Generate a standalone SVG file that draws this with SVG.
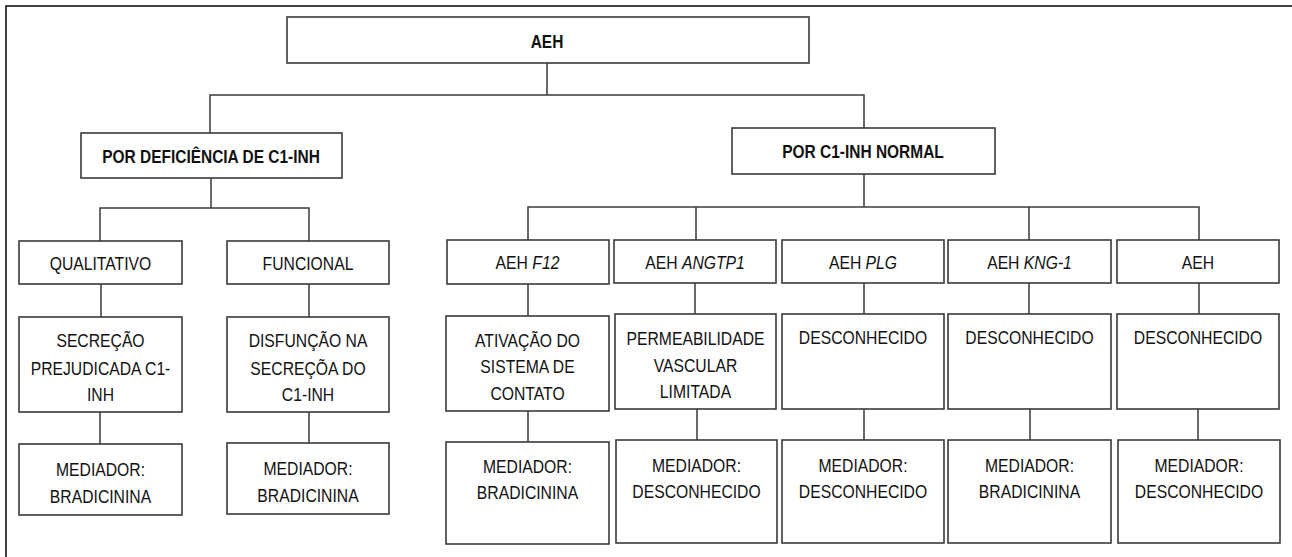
<svg xmlns="http://www.w3.org/2000/svg" width="1292" height="557" viewBox="0 0 1292 557">
<style>
.frame{stroke:#000;stroke-width:1.5;fill:none}
.box{fill:#fff;stroke:#3a3a3a;stroke-width:1.6}
.con{stroke:#3a3a3a;stroke-width:1.5;fill:none}
text{font-family:"Liberation Sans",Arial,sans-serif;font-size:18.5px;fill:#111;text-anchor:middle}
.b{font-weight:bold;font-size:18px}
.i{font-style:italic}
</style>
<rect width="1292" height="557" fill="#fff"/>
<path class="frame" d="M6,557 V6 H1292"/>
<g id="connectors">
<path class="con" d="M547,63 V95 M210,133 V95 H864 V128"/>
<path class="con" d="M211,178 V208 M100,241 V208 H309 V241"/>
<path class="con" d="M864,174 V207 M528,240 V207 H1199 V240 M696,207 V240 M1029,207 V240"/>
<path class="con" d="M101,284 V317 M309,284 V317 M528,284 V316 M695,283 V314 M864,283 V314 M1029,283 V314 M1199,283 V314"/>
<path class="con" d="M100,412 V444 M309,412 V443 M528,411 V442 M697,409 V440 M864,409 V440 M1030,409 V440 M1198,409 V440"/>
</g>
<g id="n-aeh"><rect class="box" x="287" y="17" width="522" height="46"/><text class="b" transform="translate(547,48) scale(0.86,1)">AEH</text></g>
<g id="n-def"><rect class="box" x="81" y="133" width="261" height="45"/><text class="b" transform="translate(211,163) scale(0.86,1)">POR DEFICIÊNCIA DE C1-INH</text></g>
<g id="n-normal"><rect class="box" x="732" y="128" width="263" height="46"/><text class="b" transform="translate(863,158) scale(0.86,1)">POR C1-INH NORMAL</text></g>

<g id="n-qual"><rect class="box" x="19" y="241" width="163" height="43"/><text transform="translate(100.5,270) scale(0.85,1)">QUALITATIVO</text></g>
<g id="n-func"><rect class="box" x="227" y="241" width="162" height="43"/><text transform="translate(308,270) scale(0.85,1)">FUNCIONAL</text></g>
<g id="n-f12"><rect class="box" x="447" y="240" width="162" height="44"/><text transform="translate(527.5,269) scale(0.85,1)">AEH <tspan class="i">F12</tspan></text></g>
<g id="n-angtp1"><rect class="box" x="614" y="240" width="162" height="43"/><text transform="translate(695,269) scale(0.85,1)">AEH <tspan class="i">ANGTP1</tspan></text></g>
<g id="n-plg"><rect class="box" x="782" y="240" width="162" height="43"/><text transform="translate(863,269) scale(0.85,1)">AEH <tspan class="i">PLG</tspan></text></g>
<g id="n-kng"><rect class="box" x="948" y="240" width="163" height="43"/><text transform="translate(1029.5,269) scale(0.85,1)">AEH <tspan class="i">KNG-1</tspan></text></g>
<g id="n-aeh2"><rect class="box" x="1117" y="240" width="162" height="43"/><text transform="translate(1198,269) scale(0.85,1)">AEH</text></g>

<g id="n-secr"><rect class="box" x="19" y="317" width="163" height="95"/>
<text transform="translate(100.5,347) scale(0.85,1)">SECREÇÃO</text>
<text transform="translate(100.5,375) scale(0.85,1)">PREJUDICADA C1-</text>
<text transform="translate(100.5,401) scale(0.85,1)">INH</text></g>
<g id="n-disf"><rect class="box" x="227" y="317" width="162" height="95"/>
<text transform="translate(308,347) scale(0.85,1)">DISFUNÇÃO NA</text>
<text transform="translate(308,375) scale(0.85,1)">SECREÇÕA DO</text>
<text transform="translate(308,401) scale(0.85,1)">C1-INH</text></g>
<g id="n-ativ"><rect class="box" x="446" y="316" width="163" height="95"/>
<text transform="translate(527.5,347) scale(0.85,1)">ATIVAÇÃO DO</text>
<text transform="translate(527.5,373) scale(0.85,1)">SISTEMA DE</text>
<text transform="translate(527.5,400) scale(0.85,1)">CONTATO</text></g>
<g id="n-perm"><rect class="box" x="615" y="314" width="161" height="95"/>
<text transform="translate(695.5,345) scale(0.85,1)">PERMEABILIDADE</text>
<text transform="translate(695.5,372) scale(0.85,1)">VASCULAR</text>
<text transform="translate(695.5,398) scale(0.85,1)">LIMITADA</text></g>
<g id="n-desc1"><rect class="box" x="782" y="314" width="162" height="95"/><text transform="translate(863,344) scale(0.85,1)">DESCONHECIDO</text></g>
<g id="n-desc2"><rect class="box" x="948" y="314" width="163" height="95"/><text transform="translate(1029.5,344) scale(0.85,1)">DESCONHECIDO</text></g>
<g id="n-desc3"><rect class="box" x="1117" y="314" width="162" height="95"/><text transform="translate(1198,344) scale(0.85,1)">DESCONHECIDO</text></g>

<g id="n-med1"><rect class="box" x="19" y="444" width="163" height="71"/><text transform="translate(100.5,476) scale(0.85,1)">MEDIADOR:</text><text transform="translate(100.5,503) scale(0.85,1)">BRADICININA</text></g>
<g id="n-med2"><rect class="box" x="227" y="443" width="162" height="71"/><text transform="translate(308,475) scale(0.85,1)">MEDIADOR:</text><text transform="translate(308,502) scale(0.85,1)">BRADICININA</text></g>
<g id="n-med3"><rect class="box" x="446" y="442" width="163" height="102"/><text transform="translate(527.5,473) scale(0.85,1)">MEDIADOR:</text><text transform="translate(527.5,499) scale(0.85,1)">BRADICININA</text></g>
<g id="n-med4"><rect class="box" x="616" y="440" width="161" height="103"/><text transform="translate(696.5,472) scale(0.85,1)">MEDIADOR:</text><text transform="translate(696.5,498) scale(0.85,1)">DESCONHECIDO</text></g>
<g id="n-med5"><rect class="box" x="782" y="440" width="162" height="103"/><text transform="translate(863,472) scale(0.85,1)">MEDIADOR:</text><text transform="translate(863,498) scale(0.85,1)">DESCONHECIDO</text></g>
<g id="n-med6"><rect class="box" x="948" y="440" width="163" height="103"/><text transform="translate(1029.5,472) scale(0.85,1)">MEDIADOR:</text><text transform="translate(1029.5,498) scale(0.85,1)">BRADICININA</text></g>
<g id="n-med7"><rect class="box" x="1118" y="440" width="162" height="103"/><text transform="translate(1199,472) scale(0.85,1)">MEDIADOR:</text><text transform="translate(1199,498) scale(0.85,1)">DESCONHECIDO</text></g>
</svg>
